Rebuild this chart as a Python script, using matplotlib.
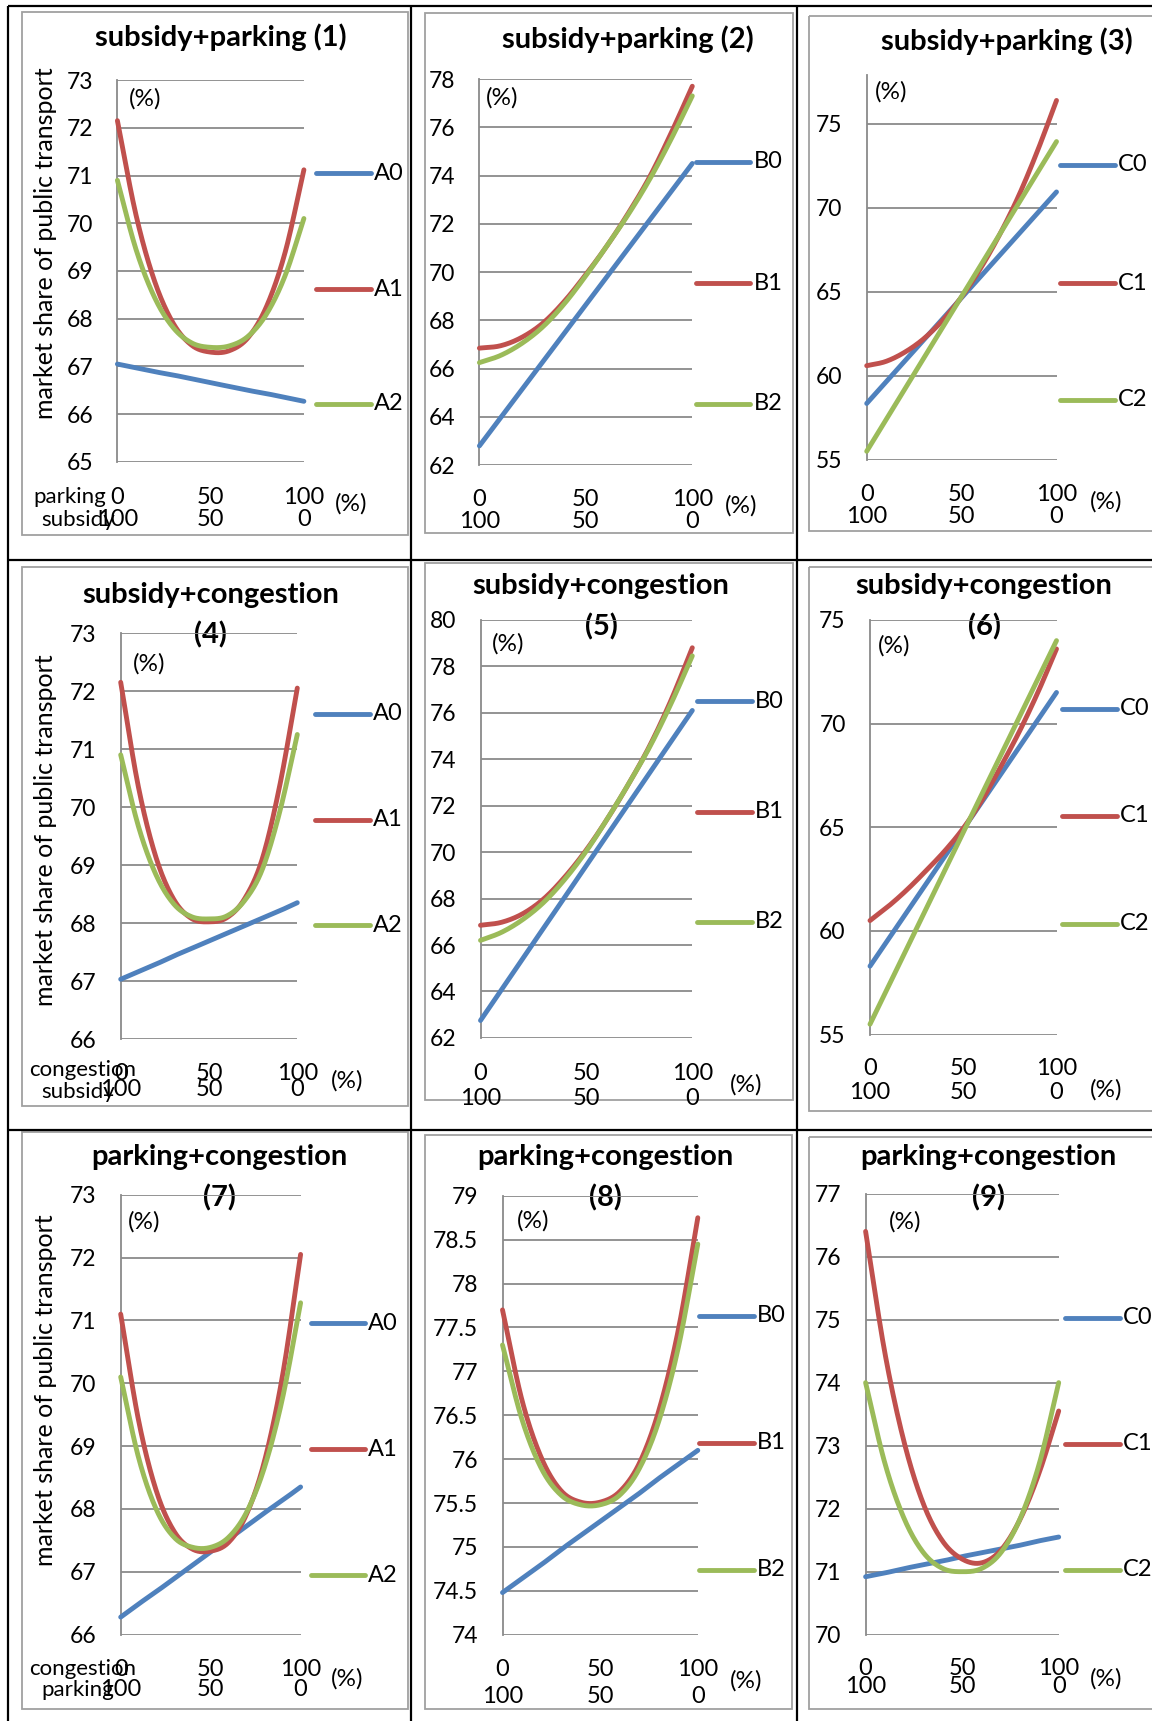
import numpy as np
import matplotlib
matplotlib.use("Agg")
import matplotlib.pyplot as plt
from matplotlib.patches import Rectangle
from matplotlib.transforms import blended_transform_factory

plt.rcParams['font.family'] = ['Lato', 'DejaVu Sans']

# ---------------- data ----------------
policy_level = [0, 10, 20, 30, 40, 50, 60, 70, 80, 90, 100]
tick_top = ["0", "50", "100"]
tick_bottom = ["100", "50", "0"]
tick_pos = [0, 50, 100]

# subsidy + parking
sp_A0 = [67.05, 66.97, 66.89, 66.82, 66.74, 66.66, 66.58, 66.50, 66.43, 66.35, 66.27]
sp_A1 = [72.15, 70.17, 68.78, 67.90, 67.44, 67.30, 67.33, 67.60, 68.26, 69.40, 71.12]
sp_A2 = [70.90, 69.45, 68.44, 67.81, 67.49, 67.40, 67.43, 67.63, 68.10, 68.91, 70.10]
sp_B0 = [62.80, 63.97, 65.14, 66.31, 67.48, 68.65, 69.82, 70.99, 72.16, 73.33, 74.50]
sp_B1 = [66.85, 66.95, 67.30, 67.90, 68.80, 69.90, 71.10, 72.45, 73.95, 75.75, 77.70]
sp_B2 = [66.25, 66.55, 67.05, 67.75, 68.70, 69.85, 71.10, 72.40, 73.85, 75.50, 77.30]
sp_C0 = [58.35, 59.61, 60.87, 62.13, 63.39, 64.65, 65.91, 67.17, 68.43, 69.69, 70.95]
sp_C1 = [60.60, 60.85, 61.40, 62.20, 63.30, 64.70, 66.40, 68.40, 70.70, 73.40, 76.40]
sp_C2 = [55.50, 57.35, 59.19, 61.04, 62.88, 64.73, 66.57, 68.42, 70.26, 72.11, 73.95]

# subsidy + congestion
sc_A0 = [67.03, 67.16, 67.29, 67.43, 67.56, 67.69, 67.82, 67.95, 68.08, 68.21, 68.35]
sc_A1 = [72.15, 70.35, 69.13, 68.41, 68.08, 68.02, 68.09, 68.41, 69.09, 70.36, 72.05]
sc_A2 = [70.90, 69.67, 68.83, 68.33, 68.11, 68.07, 68.12, 68.38, 68.91, 69.91, 71.25]
sc_B0 = [62.75, 64.09, 65.42, 66.76, 68.09, 69.43, 70.76, 72.10, 73.43, 74.77, 76.10]
sc_B1 = [66.85, 66.98, 67.35, 68.00, 68.95, 70.10, 71.45, 72.95, 74.60, 76.55, 78.80]
sc_B2 = [66.20, 66.55, 67.10, 67.85, 68.85, 70.05, 71.45, 72.95, 74.55, 76.40, 78.45]
sc_C0 = [58.30, 59.62, 60.94, 62.26, 63.58, 64.90, 66.22, 67.54, 68.86, 70.18, 71.50]
sc_C1 = [60.50, 61.20, 62.00, 62.90, 63.85, 64.95, 66.30, 67.90, 69.60, 71.50, 73.60]
sc_C2 = [55.50, 57.35, 59.20, 61.05, 62.90, 64.75, 66.60, 68.45, 70.30, 72.15, 74.00]

# parking + congestion
pc_A0 = [66.28, 66.49, 66.69, 66.90, 67.11, 67.32, 67.52, 67.73, 67.94, 68.14, 68.35]
pc_A1 = [71.10, 69.40, 68.27, 67.63, 67.36, 67.33, 67.47, 67.92, 68.77, 70.13, 72.05]
pc_A2 = [70.10, 68.81, 67.98, 67.54, 67.39, 67.39, 67.55, 67.95, 68.67, 69.77, 71.28]
pc_B0 = [74.48, 74.64, 74.80, 74.97, 75.13, 75.29, 75.45, 75.61, 75.78, 75.94, 76.10]
pc_B1 = [77.70, 76.67, 76.01, 75.64, 75.51, 75.51, 75.63, 75.95, 76.55, 77.47, 78.75]
pc_B2 = [77.30, 76.45, 75.89, 75.59, 75.48, 75.48, 75.59, 75.89, 76.43, 77.27, 78.45]
pc_C0 = [70.92, 70.98, 71.05, 71.11, 71.17, 71.24, 71.30, 71.36, 71.42, 71.49, 71.55]
pc_C1 = [76.40, 74.47, 73.05, 72.07, 71.48, 71.20, 71.14, 71.34, 71.83, 72.58, 73.55]
pc_C2 = [74.00, 72.72, 71.84, 71.30, 71.05, 71.00, 71.05, 71.30, 71.84, 72.72, 74.00]

colors = ['#4F81BD', '#C0504D', '#9BBB59']
GRID = '#8a8a8a'
FRAME = '#a0a0a0'
LW = 3.5

W, H = 1152, 1721
fig = plt.figure(figsize=(W / 100, H / 100), dpi=100)
bg = fig.add_axes([0, 0, 1, 1], zorder=0)
bg.set_xlim(0, W)
bg.set_ylim(H, 0)
bg.axis('off')


def smooth(xs, ys, n=24):
    """Catmull-Rom curve through every point (smoothed line)."""
    P = np.column_stack([np.asarray(xs, float), np.asarray(ys, float)])
    P = np.vstack([2 * P[0] - P[1], P, 2 * P[-1] - P[-2]])
    t = np.linspace(0, 1, n, endpoint=False)[:, None]
    segs = []
    for i in range(1, len(P) - 2):
        p0, p1, p2, p3 = P[i - 1], P[i], P[i + 1], P[i + 2]
        segs.append(0.5 * (2 * p1 + (-p0 + p2) * t
                           + (2 * p0 - 5 * p1 + 4 * p2 - p3) * t ** 2
                           + (-p0 + 3 * p1 - 3 * p2 + p3) * t ** 3))
    segs.append(P[-2][None, :])
    out = np.vstack(segs)
    return out[:, 0], out[:, 1]


panels = [
    dict(title=["subsidy+parking (1)"], tpos=(221, 37), series=[sp_A0, sp_A1, sp_A2], names=["A0", "A1", "A2"],
         box=(117.4, 303.9, 80.1, 461.9), ylim=(65, 73), yt=np.arange(65, 74, 1),
         leg=(316, 371, [173, 289, 404]), pin=(145, 99), pout=(351, 503.6), rows=(497, 520),
         cats=[("parking", 33, 497), ("subsidy", 41.5, 520)], frame=(22, 408, 12, 535), ylab=243.6),
    dict(title=["subsidy+parking (2)"], tpos=(627.5, 39.5), series=[sp_B0, sp_B1, sp_B2], names=["B0", "B1", "B2"],
         box=(479.4, 692.3, 79.0, 465.2), ylim=(62, 78), yt=np.arange(62, 79, 2),
         leg=(695.6, 750.4, [162, 283, 404]), pin=(502.5, 97.6), pout=(741.6, 505.8), rows=(499.2, 521.1),
         cats=[], frame=(425, 793, 13, 533), ylab=None),
    dict(title=["subsidy+parking (3)"], tpos=(1007, 41.7), series=[sp_C0, sp_C1, sp_C2], names=["C0", "C1", "C2"],
         box=(866.7, 1056.5, 74.6, 459.7), ylim=(55, 77.94), yt=np.arange(55, 76, 5),
         leg=(1059.8, 1114.7, [164.6, 283, 400]), pin=(891, 92.2), pout=(1105.9, 501.4), rows=(494.8, 516.8),
         cats=[], frame=(809, 1165, 16, 531), ylab=None),
    dict(title=["subsidy+congestion", "(4)"], tpos=(210.6, 594.6), series=[sc_A0, sc_A1, sc_A2], names=["A0", "A1", "A2"],
         box=(120.7, 297.3, 633.0, 1039.0), ylim=(66, 73), yt=np.arange(66, 74, 1),
         leg=(314.9, 369.7, [714, 819.5, 925]), pin=(149.2, 663.7), pout=(346.7, 1080.6), rows=(1073, 1089.4),
         cats=[("congestion", 29.6, 1070), ("subsidy", 41.7, 1091.6)], frame=(22, 408, 567, 1106), ylab=830.5),
    dict(title=["subsidy+congestion", "(5)"], tpos=(601.2, 585.9), series=[sc_B0, sc_B1, sc_B2], names=["B0", "B1", "B2"],
         box=(480.5, 692.3, 619.9, 1037.9), ylim=(62, 80), yt=np.arange(62, 81, 2),
         leg=(696.7, 751.5, [701, 812, 921.6]), pin=(508, 644), pout=(746, 1085), rows=(1073, 1098.2),
         cats=[], frame=(425, 793, 563, 1100), ylab=None),
    dict(title=["subsidy+congestion", "(6)"], tpos=(984.1, 585.9), series=[sc_C0, sc_C1, sc_C2], names=["C0", "C1", "C2"],
         box=(870.0, 1056.5, 619.9, 1034.6), ylim=(55, 75), yt=np.arange(55, 76, 5),
         leg=(1062, 1116.8, [708.7, 816, 923.8]), pin=(894.1, 646.2), pout=(1105.9, 1089.4), rows=(1068.6, 1092.7),
         cats=[], frame=(809, 1165, 567, 1111), ylab=None),
    dict(title=["parking+congestion", "(7)"], tpos=(219.4, 1157.4), series=[pc_A0, pc_A1, pc_A2], names=["A0", "A1", "A2"],
         box=(120.7, 300.6, 1194.7, 1634.7), ylim=(66, 73), yt=np.arange(66, 74, 1),
         leg=(310.5, 365.3, [1323, 1449, 1575]), pin=(143.7, 1222.3), pout=(346.7, 1678.6), rows=(1669.8, 1689.5),
         cats=[("congestion", 29.6, 1668.7), ("parking", 41.7, 1689.5)], frame=(22, 408, 1132, 1709), ylab=1390),
    dict(title=["parking+congestion", "(8)"], tpos=(605.6, 1157.4), series=[pc_B0, pc_B1, pc_B2], names=["B0", "B1", "B2"],
         box=(502.5, 697.8, 1195.8, 1634.7), ylim=(74, 79), yt=np.arange(74, 79.01, 0.5),
         leg=(698.9, 753.7, [1315.5, 1442.7, 1570]), pin=(533.2, 1221.1), pout=(746, 1680.8), rows=(1669.8, 1696.1),
         cats=[], frame=(425, 792, 1135, 1709), ylab=None),
    dict(title=["parking+congestion", "(9)"], tpos=(988.5, 1157.4), series=[pc_C0, pc_C1, pc_C2], names=["C0", "C1", "C2"],
         box=(865.6, 1058.7, 1193.6, 1634.7), ylim=(70, 77), yt=np.arange(70, 78, 1),
         leg=(1065.3, 1120.2, [1317.7, 1443.8, 1570]), pin=(905.1, 1222.3), pout=(1105.9, 1678.6), rows=(1668.7, 1686.2),
         cats=[], frame=(809, 1165, 1137, 1709), ylab=None),
]

FS_TICK = 16.5
FS_XT = 17
FS_LEG = 17
FS_PCT = 17.5
FS_CAT = 16
FS_TITLE = 21
FS_YLAB = 18

# table cell borders
for xv in (8, 411, 796.5):
    bg.plot([xv, xv], [6, H], color='black', lw=1.6, solid_capstyle='butt')
for yv in (6, 560, 1130):
    bg.plot([8, W], [yv, yv], color='black', lw=1.6, solid_capstyle='butt')

for p in panels:
    fx0, fx1, fy0, fy1 = p['frame']
    bg.add_patch(Rectangle((fx0, fy0), fx1 - fx0, fy1 - fy0, fill=False, ec=FRAME, lw=1.3))

    x0, x1, yt_px, yb_px = p['box']
    ax = fig.add_axes([x0 / W, 1 - yb_px / H, (x1 - x0) / W, (yb_px - yt_px) / H], zorder=2)
    ax.set_facecolor('none')
    ax.set_xlim(0, 100)
    ax.set_ylim(*p['ylim'])
    ax.set_yticks(p['yt'])
    ax.set_yticklabels(['%g' % v for v in p['yt']])
    ax.set_xticks([])
    ax.tick_params(axis='y', length=0, pad=17.5, labelsize=FS_TICK)
    for s in ('top', 'right', 'bottom'):
        ax.spines[s].set_visible(False)
    ax.spines['left'].set_color(GRID)
    ax.spines['left'].set_linewidth(1.3)
    ax.yaxis.grid(True, color=GRID, lw=1.3)
    ax.set_axisbelow(True)

    for vals, c in zip(p['series'], colors):
        sx, sy = smooth(policy_level, vals)
        ax.plot(sx, sy, color=c, lw=LW, solid_capstyle='round', clip_on=False, zorder=3)

    # two-row category labels under the horizontal axis
    tr = blended_transform_factory(ax.transData, bg.transData)
    for xv, a, b in zip(tick_pos, tick_top, tick_bottom):
        ax.text(xv, p['rows'][0], a, transform=tr, ha='center', va='center', fontsize=FS_XT)
        ax.text(xv, p['rows'][1], b, transform=tr, ha='center', va='center', fontsize=FS_XT)
    for name, cx, cy in p['cats']:
        bg.text(cx, cy, name, ha='left', va='center', fontsize=FS_CAT)

    bg.text(*p['pin'], "(%)", ha='center', va='center', fontsize=FS_PCT)
    bg.text(*p['pout'], "(%)", ha='center', va='center', fontsize=FS_PCT)

    # title, one or two lines
    tx, ty = p['tpos']
    for k, line in enumerate(p['title']):
        bg.text(tx, ty + k * 40.5, line, ha='center', va='center', fontsize=FS_TITLE,
                fontweight='bold', zorder=5)

    # legend entries
    lx0, lx1, lys = p['leg']
    for ly, c, nm in zip(lys, colors, p['names']):
        bg.plot([lx0, lx1], [ly, ly], color=c, lw=LW, solid_capstyle='round')
        bg.text(lx1 + 3, ly, nm, ha='left', va='center', fontsize=FS_LEG)

    if p['ylab'] is not None:
        bg.text(46, p['ylab'], "market share of public transport", rotation=90,
                ha='center', va='center', fontsize=FS_YLAB)

fig.savefig('out.png', dpi=100, facecolor='white')
